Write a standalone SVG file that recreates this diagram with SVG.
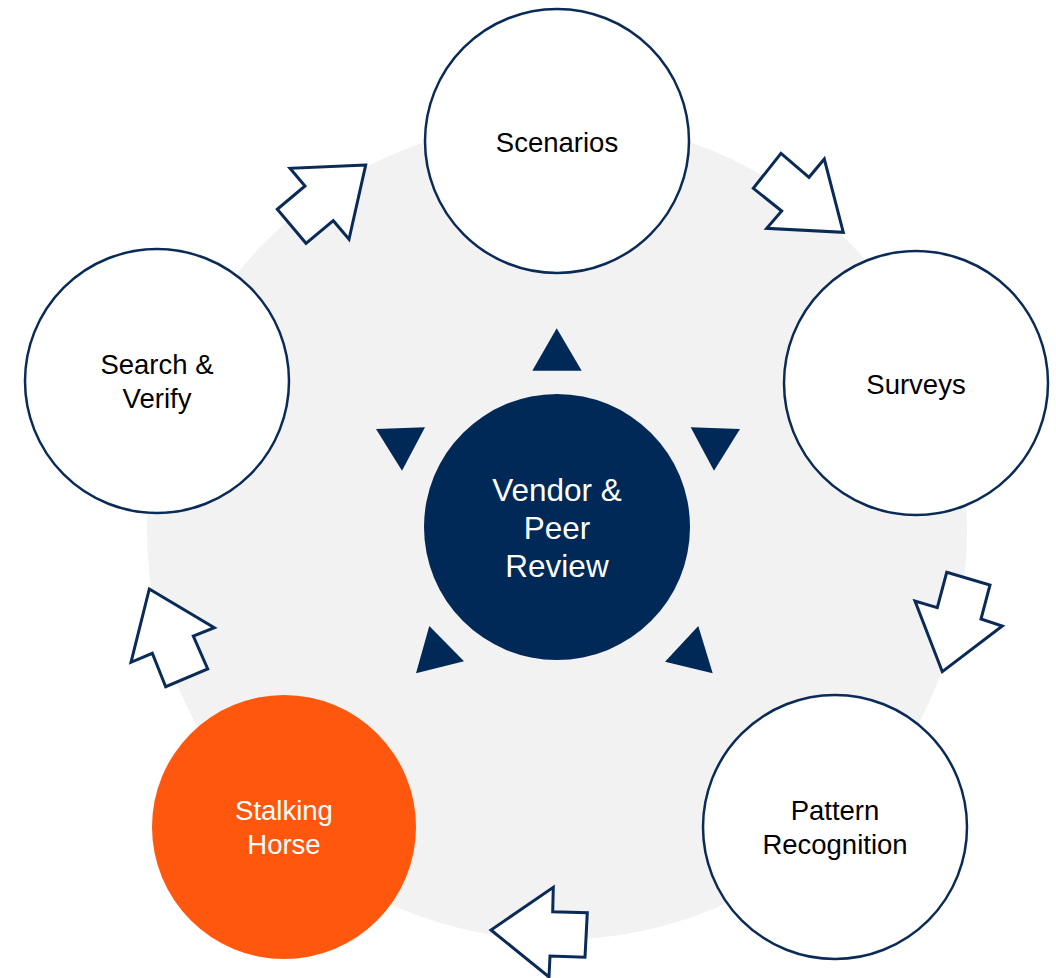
<svg xmlns="http://www.w3.org/2000/svg" width="1056" height="978" viewBox="0 0 1056 978">
<style>
.node{fill:#ffffff;stroke:#0a2a57;stroke-width:2.5}
.arrow{fill:#ffffff;stroke:#0a2a57;stroke-width:3;stroke-linejoin:miter}
.tri{fill:#012958}
text{font-family:"Liberation Sans",Arial,sans-serif;font-size:27.5px;fill:#000;text-anchor:middle}
.w{fill:#ffffff}
.c{font-size:31.5px}
</style>
<rect width="1056" height="978" fill="#ffffff"/>
<circle cx="557" cy="530" r="410" fill="#f2f2f2"/>
<g id="connectors">
<polygon class="arrow" points="365.7,165 290,168.3 305,186 277.3,209.3 306,243.3 333.3,220.7 349,239.3"/>
<polygon class="arrow" points="781,153.3 809,177.3 824.3,159 843.3,232.3 766.7,228.3 781.7,211 753.3,188.3"/>
<polygon class="arrow" points="946.7,572.3 990,585 981,619 1002.3,626 942.3,671.7 915,601 937.3,607.7"/>
<polygon class="arrow" points="553.3,887.3 552.7,911.7 587.3,912.7 585,957.3 550,956 549,977 491,930"/>
<polygon class="arrow" points="149.3,589 214.3,627.7 193.3,636 207.7,669 165.7,686.7 152.3,653.3 131,662.3"/>
<polygon class="tri" points="556.7,328.3 532.3,370.7 581.7,370.7"/>
<polygon class="tri" points="376,429 425,427.3 402,470.7"/>
<polygon class="tri" points="690.7,427.3 740,429 714,470.7"/>
<polygon class="tri" points="429.3,626 464,661.3 416,673.3"/>
<polygon class="tri" points="698.3,626 712.7,673.3 665,661.7"/>
</g>
<g id="center">
<circle cx="557" cy="527" r="133" fill="#012958"/>
<text class="w c" x="557" y="501">Vendor &amp;</text>
<text class="w c" x="557" y="539">Peer</text>
<text class="w c" x="557" y="577">Review</text>
</g>
<g id="scenarios">
<circle class="node" cx="557" cy="141" r="132"/>
<text x="557" y="152">Scenarios</text>
</g>
<g id="surveys">
<circle class="node" cx="916" cy="383" r="132"/>
<text x="916" y="394">Surveys</text>
</g>
<g id="pattern">
<circle class="node" cx="835" cy="827" r="132"/>
<text x="835" y="820">Pattern</text>
<text x="835" y="854">Recognition</text>
</g>
<g id="stalking">
<circle cx="284" cy="827" r="132" fill="#ff570d"/>
<text class="w" x="284" y="820">Stalking</text>
<text class="w" x="284" y="854">Horse</text>
</g>
<g id="search">
<circle class="node" cx="157" cy="381" r="132"/>
<text x="157" y="374">Search &amp;</text>
<text x="157" y="408">Verify</text>
</g>
</svg>
